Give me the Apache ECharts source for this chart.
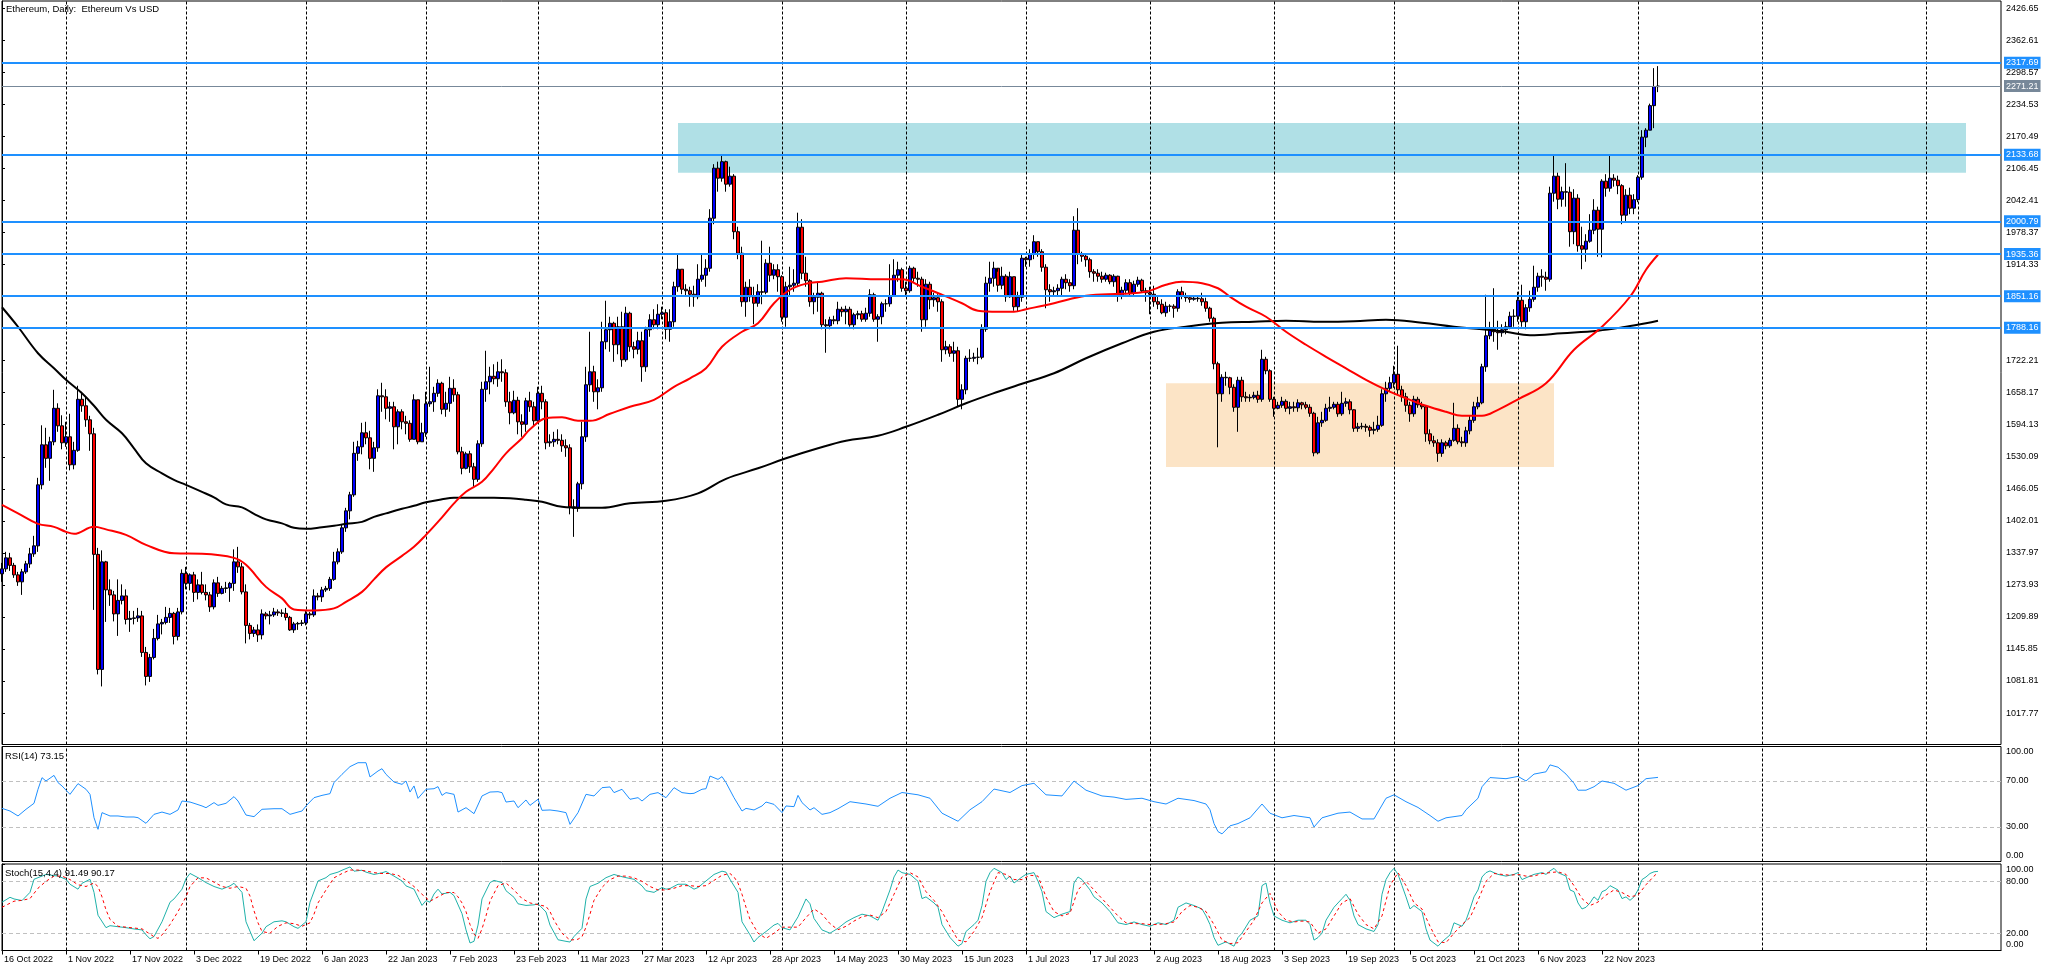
<!DOCTYPE html>
<html><head><meta charset="utf-8">
<script src="https://cdn.jsdelivr.net/npm/echarts@6/dist/echarts.min.js"></script>
<style>html,body{margin:0;padding:0;background:#fff}#c{width:2054px;height:972px}</style>
</head><body><div id="c"></div>
<script>
// ---------- data (daily bars, index 0 = 16 Oct 2022) ----------
const opens = [1296,1306,1328,1313,1294,1280,1300,1316,1336,1352,1474,1554,1527,1560,1627,1592,
1558,1570,1514,1543,1645,1632,1604,1576,1335,1105,1320,1264,1254,1216,1243,1252,1205,1207,1208,1212,1139,1091,1129,1167,1196,1199,1209,1217,1171,1220,
1297,1277,1294,1259,1274,1259,1254,1230,1278,1257,1267,1268,1277,1320,1310,1260,1193,1177,1184,1174,1216,1212,1214,1220,1218,1217,1209,1184,1196,1197,
1198,1216,1214,1252,1250,1264,1267,1285,1320,1340,1388,1422,1454,1537,1550,1578,1568,1527,1548,1652,1650,1627,1630,1590,1620,1600,1597,1565,1644,1560,
1578,1636,1640,1657,1677,1625,1637,1667,1654,1540,1507,1536,1510,1485,1556,1665,1680,1691,1686,1700,1698,1640,1618,1643,1600,1595,1642,1630,
1602,1657,1640,1558,1560,1565,1563,1552,1548,1430,1427,1476,1570,1674,1700,1660,1668,1760,1784,1797,1754,1790,1724,1817,1750,1745,1762,1710,1784,1804,1794,
1815,1818,1785,1800,1870,1905,1865,1862,1855,1850,1885,1893,1907,2007,2107,2087,2120,2075,2091,1980,1937,1840,1869,1850,1837,1860,1859,1917,1893,1904,
1890,1809,1870,1873,1877,1989,1897,1882,1840,1849,1857,1794,1792,1804,1802,1825,1820,1825,1794,1814,1816,1805,1817,1854,1805,1810,1836,1836,1852,1893,1904,
1867,1862,1907,1887,1885,1804,1875,1844,1848,1840,1744,1750,1737,1742,1645,1664,1727,1727,1729,1729,1785,1877,1887,1907,1873,1891,1850,1890,1830,1849,
1927,1924,1935,1960,1940,1909,1864,1860,1862,1867,1885,1878,1872,1983,1936,1931,1924,1900,1897,1891,1885,1893,1880,1891,1852,1863,1878,1857,1875,1883,1862,
1858,1855,1840,1835,1818,1831,1831,1827,1860,1852,1848,1845,1847,1846,1840,1827,1807,1716,1656,1689,1688,1669,1629,1683,1650,1648,1649,1653,1645,1725,1702,
1645,1627,1633,1641,1627,1630,1628,1638,1634,1629,1617,1538,1598,1603,1627,1629,1635,1616,1637,1640,1624,1587,1590,1591,1589,1583,1585,1593,1656,1667,
1678,1695,1664,1650,1633,1616,1645,1634,1630,1576,1562,1558,1537,1558,1552,1563,1587,1560,1558,1582,1603,1630,1638,1710,1772,1785,1780,1778,1784,1790,1811,
1811,1843,1800,1828,1845,1869,1891,1889,1885,2057,2091,2045,2060,2059,1980,2047,1952,1945,1961,1983,2023,1985,2081,2067,2087,2083,2072,2013,2053,2027,
2044,2089,2169,2183,2232,2270];
const closes = [1306,1328,1313,1294,1280,1300,1316,1336,1352,1474,1554,1527,1560,1627,1592,1558,
1570,1514,1543,1645,1632,1604,1576,1335,1105,1320,1264,1254,1216,1243,1252,1205,1207,1208,1212,1139,1091,1129,1167,1196,1199,1209,1217,1171,1220,1297,
1277,1294,1259,1274,1259,1254,1230,1278,1257,1267,1268,1277,1320,1310,1260,1193,1177,1184,1174,1216,1212,1214,1220,1218,1217,1209,1184,1196,1197,1198,
1216,1214,1252,1250,1264,1267,1285,1320,1340,1388,1422,1454,1537,1550,1578,1568,1527,1548,1652,1650,1627,1630,1590,1620,1600,1597,1565,1644,1560,1578,
1636,1640,1657,1677,1625,1637,1667,1654,1540,1507,1536,1510,1485,1556,1665,1680,1691,1686,1700,1698,1640,1618,1643,1600,1595,1642,1630,1602,
1657,1640,1558,1560,1565,1563,1552,1548,1430,1427,1476,1570,1674,1700,1660,1668,1760,1784,1797,1754,1790,1724,1817,1750,1745,1762,1710,1784,1804,1794,1815,
1818,1785,1800,1870,1905,1865,1862,1855,1850,1885,1893,1907,2007,2107,2087,2120,2075,2091,1980,1937,1840,1869,1850,1837,1860,1859,1917,1893,1904,1890,
1809,1870,1873,1877,1989,1897,1882,1840,1849,1857,1794,1792,1804,1802,1825,1820,1825,1794,1814,1816,1805,1817,1854,1805,1810,1836,1836,1852,1893,1904,1867,
1862,1907,1887,1885,1804,1875,1844,1848,1840,1744,1750,1737,1742,1645,1664,1727,1727,1729,1729,1785,1877,1887,1907,1873,1891,1850,1890,1830,1849,1927,
1924,1935,1960,1940,1909,1864,1860,1862,1867,1885,1878,1872,1983,1936,1931,1924,1900,1897,1891,1885,1893,1880,1891,1852,1863,1878,1857,1875,1883,1862,1858,
1855,1840,1835,1818,1831,1831,1827,1860,1852,1848,1845,1847,1846,1840,1827,1807,1716,1656,1689,1688,1669,1629,1683,1650,1648,1649,1653,1645,1725,1702,1645,
1627,1633,1641,1627,1630,1628,1638,1634,1629,1617,1538,1598,1603,1627,1629,1635,1616,1637,1640,1624,1587,1590,1591,1589,1583,1585,1593,1656,1667,1678,
1695,1664,1650,1633,1616,1645,1634,1630,1576,1562,1558,1537,1558,1552,1563,1587,1560,1558,1582,1603,1630,1638,1710,1772,1785,1780,1778,1784,1790,1811,1811,
1843,1800,1828,1845,1869,1891,1889,1885,2057,2091,2045,2060,2059,1980,2047,1952,1945,1961,1983,2023,1985,2081,2067,2087,2083,2072,2013,2053,2027,2044,
2089,2169,2183,2232,2270,2271.21];
const highs = [1318,1340,1338,1318,1300,1306,1322,1348,1372,1488,1593,1588,1570,1664,1637,1613,
1600,1616,1560,1672,1660,1650,1612,1588,1348,1343,1322,1285,1262,1285,1275,1265,1222,1222,1228,1222,1150,1136,1186,1214,1206,1230,1228,1220,1228,1305,
1310,1297,1300,1285,1300,1275,1260,1285,1290,1272,1280,1280,1345,1350,1318,1275,1198,1190,1195,1225,1220,1222,1228,1225,1225,1228,1212,1200,1200,1204,
1222,1220,1265,1258,1270,1272,1290,1340,1347,1395,1428,1460,1560,1562,1598,1600,1582,1560,1665,1678,1665,1640,1640,1625,1625,1612,1603,1655,1644,1598,
1660,1710,1670,1685,1680,1660,1690,1685,1660,1550,1540,1542,1518,1563,1680,1742,1710,1715,1720,1725,1705,1660,1662,1650,1615,1648,1660,1640,
1670,1672,1645,1575,1580,1585,1575,1565,1555,1445,1480,1600,1710,1780,1712,1685,1800,1842,1810,1800,1810,1820,1830,1820,1760,1780,1780,1790,1815,1825,1835,
1830,1825,1825,1880,1935,1905,1875,1870,1872,1915,1935,1925,2025,2115,2120,2135,2122,2110,2095,1990,1950,1880,1885,1870,1875,1962,1925,1950,1915,1915,
1893,1880,1910,1905,2018,2005,1930,1885,1858,1880,1860,1805,1810,1812,1840,1830,1832,1830,1818,1822,1822,1828,1865,1858,1815,1840,1845,1915,1925,1920,1908,
1880,1912,1910,1900,1890,1885,1880,1858,1855,1845,1762,1755,1760,1750,1675,1732,1745,1738,1748,1795,1890,1920,1920,1900,1910,1895,1900,1890,1860,1935,
1930,1945,1973,1960,1945,1915,1875,1870,1875,1890,1895,1885,2011,2027,1940,1935,1928,1905,1905,1900,1898,1895,1895,1892,1870,1885,1885,1882,1890,1886,1868,
1870,1872,1850,1845,1840,1835,1835,1865,1870,1858,1852,1852,1852,1858,1848,1830,1810,1720,1695,1700,1690,1675,1690,1690,1660,1655,1660,1662,1744,1730,1705,
1650,1640,1650,1645,1640,1640,1645,1640,1640,1635,1620,1610,1620,1636,1650,1640,1640,1660,1648,1645,1625,1598,1598,1596,1593,1600,1612,1665,1680,1690,
1712,1752,1672,1658,1640,1652,1650,1640,1632,1585,1572,1565,1565,1562,1568,1638,1595,1570,1590,1612,1640,1650,1716,1854,1800,1867,1802,1795,1800,1820,1825,
1860,1874,1835,1862,1912,1898,1905,1900,2070,2133,2098,2070,2117,2070,2065,2055,1990,1975,2015,2045,2030,2085,2095,2133,2095,2092,2075,2065,2068,2055,
2093,2183,2187,2236,2307,2311];
const lows = [1280,1300,1302,1288,1272,1254,1296,1308,1330,1340,1465,1508,1482,1553,1580,1545,
1550,1503,1505,1540,1620,1590,1542,1224,1095,1071,1200,1232,1201,1172,1235,1195,1180,1195,1200,1130,1073,1080,1125,1163,1175,1195,1198,1155,1163,1215,
1265,1263,1240,1245,1255,1243,1220,1225,1250,1255,1258,1240,1262,1298,1255,1157,1165,1170,1160,1165,1205,1195,1210,1212,1210,1203,1182,1178,1184,1192,
1193,1206,1210,1243,1240,1260,1262,1282,1315,1336,1380,1405,1450,1522,1535,1555,1505,1500,1540,1620,1605,1600,1545,1555,1585,1575,1560,1565,1555,1560,
1570,1630,1620,1650,1615,1610,1620,1640,1535,1495,1505,1498,1470,1480,1550,1640,1655,1675,1670,1680,1630,1595,1615,1575,1570,1580,1620,1590,
1600,1625,1545,1550,1550,1555,1540,1530,1415,1370,1420,1465,1560,1660,1640,1625,1660,1745,1740,1720,1735,1710,1720,1740,1727,1735,1680,1700,1770,1785,1785,
1805,1765,1760,1790,1860,1855,1850,1830,1830,1845,1880,1870,1900,1995,2060,2080,2060,2070,1965,1925,1830,1810,1840,1795,1830,1835,1855,1880,1885,1860,
1800,1790,1850,1860,1870,1885,1870,1830,1815,1820,1785,1738,1785,1795,1795,1810,1795,1790,1785,1805,1800,1800,1810,1800,1760,1795,1820,1830,1850,1880,1860,
1850,1858,1880,1870,1780,1790,1825,1830,1820,1720,1735,1730,1720,1630,1625,1655,1720,1720,1715,1725,1780,1860,1870,1860,1865,1840,1848,1822,1820,1840,
1910,1910,1925,1930,1900,1827,1840,1850,1850,1850,1865,1860,1865,1915,1920,1910,1888,1880,1880,1878,1880,1875,1870,1840,1845,1855,1850,1850,1870,1858,1840,
1815,1830,1825,1815,1810,1820,1808,1820,1845,1840,1838,1842,1840,1832,1820,1800,1705,1549,1640,1672,1655,1620,1580,1640,1640,1640,1645,1638,1640,1695,1640,
1610,1625,1628,1620,1615,1620,1620,1625,1625,1610,1531,1535,1590,1600,1620,1625,1610,1612,1630,1615,1580,1580,1585,1580,1570,1575,1580,1590,1640,1660,
1668,1655,1640,1620,1600,1610,1628,1625,1560,1555,1550,1520,1530,1545,1548,1560,1555,1550,1550,1575,1598,1625,1635,1700,1765,1760,1744,1770,1775,1785,1790,
1800,1790,1785,1820,1840,1860,1870,1862,1880,2040,2025,2030,2030,1950,1955,1940,1905,1920,1958,1975,1930,1929,2050,2060,2070,2055,1995,2000,2015,2015,
2039,2084,2149,2183,2187,2259];

// moving averages: [bar index, value]
const maSlow = [[0,1829],[4,1790],[9,1737],[13,1707],[16,1684],[20,1657],[23,1632],[26,1604],[30,1577],[33,1547],[36,1517],[40,1497],[43,1484],[46,1474],[50,1460],[53,1449],[56,1435],[60,1429],[63,1416],[66,1405],[70,1397],[73,1388],[76,1386],[80,1389],[83,1392],[86,1396],[90,1400],[93,1410],[96,1417],[100,1426],[103,1432],[106,1439],[110,1445],[113,1448],[116,1448],[120,1448],[123,1448],[127,1447],[131,1444],[135,1440],[140,1430],[145,1428],[150,1428],[157,1437],[166,1442],[174,1457],[181,1486],[189,1507],[196,1527],[204,1547],[211,1562],[219,1572],[226,1590],[234,1614],[241,1637],[249,1660],[255,1676],[263,1697],[271,1727],[280,1757],[288,1780],[296,1790],[305,1798],[313,1800],[321,1802],[330,1800],[338,1801],[346,1804],[355,1798],[363,1790],[370,1785],[376,1780],[382,1773],[390,1777],[399,1782],[406,1790],[411,1797],[414,1802]];
const maFast = [[0,1434],[4,1417],[9,1396],[13,1390],[16,1380],[18,1376],[23,1390],[26,1385],[31,1374],[36,1354],[43,1337],[50,1336],[58,1328],[61,1314],[66,1270],[70,1247],[73,1225],[78,1223],[83,1227],[86,1240],[90,1260],[93,1285],[96,1309],[100,1332],[103,1350],[106,1374],[110,1409],[113,1437],[116,1460],[120,1480],[123,1507],[126,1537],[130,1567],[132,1585],[136,1607],[140,1609],[144,1602],[147,1602],[152,1616],[157,1630],[163,1644],[168,1670],[172,1687],[176,1707],[180,1750],[185,1780],[189,1797],[193,1837],[197,1864],[201,1876],[205,1880],[211,1887],[219,1885],[225,1885],[230,1870],[235,1854],[240,1837],[244,1822],[249,1820],[253,1820],[256,1825],[263,1837],[271,1852],[280,1856],[286,1860],[291,1874],[295,1880],[300,1877],[304,1867],[307,1850],[311,1830],[316,1810],[321,1780],[326,1754],[331,1730],[336,1707],[341,1684],[346,1664],[351,1647],[356,1632],[361,1620],[365,1612],[370,1612],[374,1624],[379,1645],[386,1677],[393,1744],[400,1790],[407,1850],[411,1904],[414,1934]];

// RSI(14)
const rsi = [[0,46.2],[2,43.9],[4,39.6],[6,45.4],[8,50.6],[9,62.8],[10,72.9],[11,70],[13,74.9],[14,68.6],[15,65.7],[17,58.4],[19,67.7],[21,62.8],[22,58.4],[23,38.1],[24,28],[25,42.5],[27,39.6],[29,39.6],[31,38.7],[33,38.7],[34,38.1],[36,33.2],[38,41],[40,43],[42,41],[44,44.8],[45,52.6],[47,51.7],[48,50.6],[50,48.3],[51,46.8],[53,51.2],[54,48.8],[56,50.6],[58,56.4],[59,52.6],[61,40.4],[63,39],[65,45.4],[68,45.9],[70,45.9],[72,41],[74,43],[75,43.9],[76,48.3],[78,55.5],[80,57.5],[82,59],[83,68.6],[85,75.8],[87,82.5],[89,85.9],[91,85.9],[92,73.5],[94,78.7],[95,80.7],[96,75.8],[98,69.1],[100,67.1],[101,70],[102,60.4],[103,65.7],[104,54.9],[106,62.8],[108,63.3],[109,65.1],[110,57.5],[111,59.9],[113,58.4],[114,43],[116,46.8],[118,41.6],[120,57],[122,60.4],[124,60.7],[125,59.9],[126,51.7],[128,52.6],[129,46.8],[131,53.5],[132,48.8],[134,54.1],[135,44.5],[137,44.8],[139,43.9],[141,42.5],[142,32.3],[144,42.5],[146,58.4],[148,57],[150,64.2],[152,64.8],[153,59.9],[155,62.8],[157,54.1],[159,55.5],[160,52.6],[162,58.4],[164,59.9],[166,55.5],[168,64.2],[170,59.9],[172,59],[173,59.3],[175,62.8],[176,63.3],[177,74.3],[179,71.4],[180,73.8],[181,68.6],[183,55.5],[185,43.9],[186,46.2],[188,44.8],[190,48.3],[191,51.7],[193,49.7],[195,42.5],[196,48.3],[198,47.7],[199,57.5],[200,51.2],[202,44.8],[203,46.8],[205,41],[207,42.5],[209,45.9],[212,52],[216,50],[219,48],[222,55],[225,60],[229,58],[232,55],[235,42],[239,35],[242,45],[245,52],[248,63],[252,60],[255,66],[258,68],[261,58],[265,57],[268,70],[271,62],[275,57],[278,56],[281,54],[285,55],[288,52],[291,50],[294,55],[298,53],[301,50],[302,45],[303,33],[304,26],[305,24],[307,31],[309,33],[312,38],[315,50],[317,42],[320,38],[323,40],[327,38],[328,30],[330,38],[334,42],[337,43],[340,37],[343,37],[346,55],[348,58],[351,52],[354,47],[357,40],[359,35],[361,38],[365,40],[366,45],[369,55],[370,65],[372,73],[376,72],[379,74],[381,70],[383,76],[386,78],[387,84],[389,82],[391,76],[393,68],[394,62],[396,62],[398,65],[400,70],[403,68],[406,62],[409,66],[411,72],[414,73.15]];

// Stochastic(15,4,4) main and signal
const stochMain = [[0,55.8],[2,61.5],[3,59.6],[5,57.7],[7,67.2],[8,82.3],[9,84.2],[11,87.9],[14,86],[16,82.3],[17,76.6],[19,70.9],[20,77.7],[22,82.3],[23,67.2],[24,40.8],[26,26.4],[27,28.7],[29,27.5],[31,26.4],[33,24.9],[35,23.8],[36,18.1],[37,13.6],[38,16.2],[40,33.2],[42,55.8],[43,59.6],[45,70.9],[46,83],[47,89.1],[49,84.2],[51,78.5],[53,74],[55,70.9],[57,74.7],[58,77.7],[60,67.2],[61,33.2],[63,11.3],[65,20],[66,27.5],[68,33.2],[70,34.3],[71,33.2],[73,27.5],[74,25.6],[76,33.2],[77,55.8],[79,80.4],[81,84.2],[82,87.9],[84,90.6],[85,92.8],[87,96.6],[88,91.7],[90,92.8],[91,90.6],[93,87.9],[95,89.8],[96,91.3],[98,86],[100,80.4],[101,74.7],[103,70.9],[104,61.5],[105,52.1],[106,57.7],[107,55.8],[108,65.3],[109,70.9],[110,65.3],[112,67.2],[113,63.4],[115,42.6],[116,23.8],[117,8.7],[118,10.6],[119,29.4],[120,59.6],[122,78.5],[123,81.1],[125,78.5],[126,69.1],[128,61.5],[129,54],[131,52.1],[133,52.8],[134,54],[136,44.5],[137,29.4],[139,12.4],[141,10.6],[142,9.8],[143,16.2],[145,25.7],[146,59.6],[147,74],[149,77.7],[151,84.2],[153,87.9],[155,85.3],[156,84.2],[158,82.3],[160,74.7],[161,69.1],[163,67.2],[165,72.8],[166,70.9],[167,71.7],[169,76.6],[171,76.6],[173,70.9],[174,72.8],[176,80.4],[178,87.9],[180,91.7],[181,90.6],[182,82.3],[184,67.2],[185,33.2],[187,18.1],[188,9.8],[189,15.1],[191,21.9],[193,29.4],[194,31.3],[195,26.4],[197,23.8],[199,38.9],[201,59.6],[202,54],[203,37],[205,23.8],[207,20],[209,25.7],[211,33],[213,38],[215,42],[217,40],[219,35],[220,45],[222,70],[223,85],[224,93],[225,90],[227,88],[229,80],[230,60],[231,62],[233,55],[234,50],[235,30],[237,15],[239,5],[240,8],[241,22],[243,30],[244,35],[245,52],[246,80],[247,90],[248,95],[250,90],[251,82],[252,86],[253,78],[255,85],[256,88],[258,90],[259,80],[260,68],[261,45],[263,38],[265,42],[267,45],[268,78],[269,85],[270,82],[272,70],[273,62],[275,55],[277,45],[279,32],[281,30],[283,33],[285,30],[287,28],[289,32],[291,30],[293,35],[294,50],[296,55],[298,52],[300,48],[301,40],[302,30],[303,15],[304,6],[306,10],[308,5],[309,15],[310,20],[312,35],[314,40],[315,75],[316,78],[317,55],[318,40],[320,35],[322,32],[324,35],[326,35],[327,30],[328,12],[329,15],[330,20],[331,35],[333,50],[335,60],[336,65],[337,58],[338,40],[339,30],[341,25],[343,22],[344,30],[345,65],[346,82],[347,90],[348,95],[349,88],[350,75],[351,62],[352,48],[353,52],[355,45],[356,25],[357,12],[359,5],[360,10],[362,18],[363,32],[365,28],[366,35],[367,48],[368,62],[369,70],[370,85],[371,90],[372,92],[374,88],[376,86],[378,88],[379,90],[380,82],[381,84],[383,88],[385,90],[386,88],[387,92],[388,95],[389,90],[391,86],[392,70],[393,68],[394,55],[395,48],[396,50],[397,55],[398,62],[399,58],[400,68],[401,70],[402,75],[404,70],[405,60],[406,62],[407,58],[408,62],[409,70],[410,82],[411,85],[412,89],[413,91],[414,91.49]];
const stochSignal = [[0,50],[3,57],[5,58],[7,60],[9,72],[11,80],[13,86],[15,86],[17,82],[19,76],[21,74],[23,78],[24,74],[25,62],[26,47],[27,36],[29,28],[31,27],[33,26],[35,25],[37,19],[38,16],[39,14],[40,18],[42,30],[44,45],[46,62],[47,74],[49,84],[51,84],[53,79],[55,74],[57,72],[59,74],[61,72],[62,63],[63,46],[64,32],[65,22],[67,20],[69,28],[71,32],[73,31],[75,28],[77,32],[78,42],[79,55],[81,70],[83,84],[85,89],[87,93],[89,93],[91,92],[93,90],[95,89],[97,89],[99,87],[101,81],[103,74],[105,65],[107,57],[109,62],[111,67],[113,67],[114,62],[115,55],[116,45],[117,30],[118,19],[119,14],[120,25],[121,40],[122,57],[124,75],[126,78],[128,70],[130,60],[132,55],[134,53],[136,51],[137,45],[138,35],[140,20],[142,12],[144,13],[145,16],[146,27],[147,42],[148,58],[150,73],[152,82],[154,86],[156,86],[158,84],[160,80],[162,74],[164,70],[166,70],[168,72],[170,75],[172,75],[174,74],[176,75],[178,81],[180,87],[182,89],[183,85],[184,78],[185,65],[186,50],[187,36],[189,20],[191,14],[193,20],[195,27],[197,27],[199,27],[201,38],[203,48],[205,42],[207,31],[209,24],[211,28],[213,34],[215,39],[217,41],[219,38],[221,45],[223,65],[225,85],[227,90],[229,85],[231,68],[233,58],[235,45],[237,28],[239,12],[241,10],[243,22],[245,38],[247,68],[249,90],[251,88],[253,82],[255,82],[257,87],[259,86],[261,62],[263,45],[265,40],[267,43],[269,70],[271,80],[273,70],[275,60],[277,50],[279,40],[281,32],[283,31],[285,31],[287,30],[289,30],[291,31],[293,33],[295,45],[297,52],[299,50],[301,45],[303,30],[305,12],[307,8],[309,9],[311,22],[313,35],[315,55],[317,66],[319,45],[321,35],[323,33],[325,34],[327,33],[329,20],[331,25],[333,40],[335,55],[337,60],[339,42],[341,30],[343,25],[345,40],[347,75],[349,90],[351,75],[353,55],[355,48],[357,28],[359,10],[361,9],[363,20],[365,30],[367,38],[369,58],[371,80],[373,89],[375,88],[377,87],[379,88],[381,86],[383,86],[385,89],[387,90],[389,91],[391,88],[393,75],[395,60],[397,52],[399,56],[401,64],[403,70],[405,67],[407,62],[409,64],[411,76],[413,86],[414,90.17]];

// horizontal levels, current price, zones [fromBar, toBar, low, high]
const levels = [2317.69, 2133.68, 2000.79, 1935.36, 1851.16, 1788.16];
const lastPrice = 2271.21;
const blueZone = [169, 491, 2097.9, 2197.4];
const peachZone = [291, 388, 1509.4, 1676.9];

// axes
const priceTicks = [2426.65,2362.61,2298.57,2234.53,2170.49,2106.45,2042.41,1978.37,1914.33,1850.29,1786.25,1722.21,1658.17,1594.13,1530.09,1466.05,1402.01,1337.97,1273.93,1209.89,1145.85,1081.81,1017.77];
const priceLabels = [2426.65,2362.61,2298.57,2234.53,2170.49,2106.45,2042.41,1978.37,1914.33,1722.21,1658.17,1594.13,1530.09,1466.05,1402.01,1337.97,1273.93,1209.89,1145.85,1081.81,1017.77];
const timeTickBars = [0,16,32,48,64,80,96,112,128,144,160,176,192,208,224,240,256,272,288,304,320,336,352,368,384,400];
const timeTickLabels = ['16 Oct 2022','1 Nov 2022','17 Nov 2022','3 Dec 2022','19 Dec 2022','6 Jan 2023','22 Jan 2023','7 Feb 2023','23 Feb 2023','11 Mar 2023','27 Mar 2023','12 Apr 2023','28 Apr 2023','14 May 2023','30 May 2023','15 Jun 2023','1 Jul 2023','17 Jul 2023','2 Aug 2023','18 Aug 2023','3 Sep 2023','19 Sep 2023','5 Oct 2023','21 Oct 2023','6 Nov 2023','22 Nov 2023'];
const monthStartBars = [16,46,76,106,134,165,195,226,256,287,318,348,379,409,440,481];
const rsiLevels = [70, 30];
const stochLevels = [80, 20];
const rsiTicks = [100, 70, 30, 0];
const stochTicks = [100, 80, 20, 0];

// ---------- chart ----------
const FONT = 'Liberation Sans';
const candleData = closes.map((c, i) => [i, opens[i], c, lows[i], highs[i]]);
const sepLine = {lineStyle: {color: '#000', type: [3, 2], width: 1}};
const monthMarks = monthStartBars.map(b => Object.assign({xAxis: b}, sepLine));
const levelMark = (v, col) => ({yAxis: v, lineStyle: {color: col, width: col === '#1E90FF' ? 2 : 1, type: 'solid'},
  label: {show: true, position: 'end', distance: 3, formatter: () => v.toFixed(2), backgroundColor: col, color: '#fff',
          padding: [2, 2, 1, 2], fontSize: 9, fontFamily: FONT}});
const greyLevel = (v) => ({yAxis: v, lineStyle: {color: '#C0C0C0', type: [4, 3], width: 1}});

const X0 = 0, X1 = 499.75;
const xHidden = (g) => ({type: 'value', gridIndex: g, min: X0, max: X1, show: false});
const axisTxt = {color: '#000', fontSize: 9, fontFamily: FONT};
const rich = {t: Object.assign({padding: [11, 0, 0, 0]}, axisTxt), b: Object.assign({padding: [0, 0, 11, 0]}, axisTxt)};
const edgeFmt = (v) => v === 100 ? '{t|100.00}' : (v === 0 ? '{b|0.00}' : v.toFixed(2));

const option = {
  animation: false,
  backgroundColor: '#fff',
  title: [
    {text: 'Ethereum, Daily:  Ethereum Vs USD', left: 6, top: 4, padding: 0, textStyle: {fontSize: 9.5, fontWeight: 'normal', color: '#000', fontFamily: FONT}},
    {text: 'RSI(14) 73.15', left: 5, top: 751, padding: 0, textStyle: {fontSize: 9.5, fontWeight: 'normal', color: '#000', fontFamily: FONT}},
    {text: 'Stoch(15,4,4) 91.49 90.17', left: 5, top: 868, padding: 0, textStyle: {fontSize: 9.5, fontWeight: 'normal', color: '#000', fontFamily: FONT}}
  ],
  grid: [
    {left: 2, top: 1, width: 1999, height: 743.5, show: true, borderColor: '#000', borderWidth: 1},
    {left: 2, top: 746.5, width: 1999, height: 115, show: true, borderColor: '#000', borderWidth: 1},
    {left: 2, top: 864, width: 1999, height: 86.5, show: true, borderColor: '#000', borderWidth: 1}
  ],
  xAxis: [
    xHidden(0), xHidden(1),
    {type: 'value', gridIndex: 2, min: X0, max: X1, position: 'bottom',
     axisLine: {show: true, lineStyle: {color: '#000'}},
     axisTick: {show: true, length: 4, lineStyle: {color: '#000'}, customValues: timeTickBars},
     axisLabel: {show: true, customValues: timeTickBars, align: 'left', margin: 5, padding: [0, 0, 0, 2],
                 formatter: v => timeTickLabels[timeTickBars.indexOf(v)], ...axisTxt},
     splitLine: {show: false}}
  ],
  yAxis: [
    {type: 'value', gridIndex: 0, position: 'right', min: 954.9, max: 2441.2,
     axisLine: {show: true, lineStyle: {color: '#000'}},
     axisTick: {show: true, length: 3, lineStyle: {color: '#000'}, customValues: priceTicks},
     axisLabel: {show: true, customValues: priceLabels, margin: 5, formatter: v => v.toFixed(2), ...axisTxt},
     splitLine: {show: false}},
    {type: 'value', gridIndex: 1, position: 'right', min: 0, max: 100,
     axisLine: {show: true, lineStyle: {color: '#000'}},
     axisTick: {show: true, length: 3, lineStyle: {color: '#000'}, customValues: rsiTicks},
     axisLabel: {show: true, customValues: rsiTicks, margin: 5, formatter: edgeFmt, rich: rich, ...axisTxt},
     splitLine: {show: false}},
    {type: 'value', gridIndex: 2, position: 'right', min: 0, max: 100,
     axisLine: {show: true, lineStyle: {color: '#000'}},
     axisTick: {show: true, length: 3, lineStyle: {color: '#000'}, customValues: stochTicks},
     axisLabel: {show: true, customValues: stochTicks, margin: 5, formatter: edgeFmt, rich: rich, ...axisTxt},
     splitLine: {show: false}}
  ],
  series: [
    {type: 'candlestick', xAxisIndex: 0, yAxisIndex: 0, z: 3, barWidth: 3, data: candleData,
     encode: {x: 0, y: [1, 2, 3, 4]},
     itemStyle: {color: '#0000FF', color0: '#FF0000', borderColor: '#000', borderColor0: '#000', borderColorDoji: '#000', borderWidth: 1},
     markArea: {silent: true, z: -1, itemStyle: {borderWidth: 0}, label: {show: false},
       data: [
         [{xAxis: blueZone[0], yAxis: blueZone[3], itemStyle: {color: '#B0E0E6'}}, {xAxis: blueZone[1], yAxis: blueZone[2]}],
         [{xAxis: peachZone[0], yAxis: peachZone[3], itemStyle: {color: '#FCE4C6'}}, {xAxis: peachZone[1], yAxis: peachZone[2]}]
       ]},
     markLine: {silent: true, z: 6, symbol: 'none', precision: 2,
       data: levels.map(v => levelMark(v, '#1E90FF')).concat([levelMark(lastPrice, '#778899')])}
    },
    {type: 'line', name: 'slow', xAxisIndex: 0, yAxisIndex: 0, z: 4, data: maSlow, showSymbol: false, smooth: 0.4,
     lineStyle: {color: '#000', width: 2},
     markLine: {silent: true, z: 1, symbol: 'none', label: {show: false}, data: monthMarks}},
    {type: 'line', name: 'fast', xAxisIndex: 0, yAxisIndex: 0, z: 4, data: maFast, showSymbol: false, smooth: 0.4,
     lineStyle: {color: '#FF0000', width: 2}},
    {type: 'line', name: 'rsi', xAxisIndex: 1, yAxisIndex: 1, z: 3, data: rsi, showSymbol: false,
     lineStyle: {color: '#1E90FF', width: 1},
     markLine: {silent: true, z: 1, symbol: 'none', label: {show: false},
       data: rsiLevels.map(greyLevel).concat(monthMarks)}},
    {type: 'line', name: 'stoch', xAxisIndex: 2, yAxisIndex: 2, z: 3, data: stochMain, showSymbol: false,
     lineStyle: {color: '#20B2AA', width: 1},
     markLine: {silent: true, z: 1, symbol: 'none', label: {show: false},
       data: stochLevels.map(greyLevel).concat(monthMarks)}},
    {type: 'line', name: 'signal', xAxisIndex: 2, yAxisIndex: 2, z: 3, data: stochSignal, showSymbol: false,
     lineStyle: {color: '#FF0000', width: 1, type: [3, 3]}}
  ]
};
const chart = echarts.init(document.getElementById('c'), null, {renderer: 'canvas'});
chart.setOption(option);
</script>
</body></html>
